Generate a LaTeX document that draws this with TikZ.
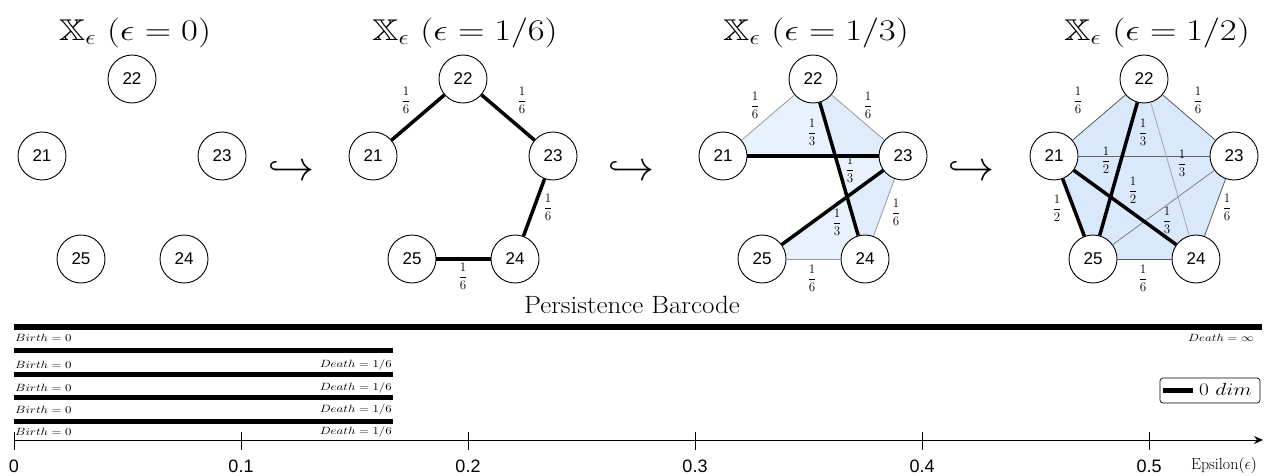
\documentclass[tikz,border=0pt]{standalone}
\usepackage{amsmath,amssymb}
\DeclareFontShape{OML}{cmm}{m}{it}{<-6> cmmi5 <6-7> cmmi6 <7-8> cmmi7 <8-9> cmmi8 <9-10> cmmi9 <10-12> cmmi10 <12-> cmmi12}{}
\DeclareFontShape{OMS}{cmsy}{m}{n}{<-6> cmsy5 <6-7> cmsy6 <7-8> cmsy7 <8-9> cmsy8 <9-10> cmsy9 <10-> cmsy10}{}
\DeclareFontShape{OT1}{cmr}{m}{n}{<-6> cmr5 <6-7> cmr6 <7-8> cmr7 <8-9> cmr8 <9-10> cmr9 <10-12> cmr10 <12-17> cmr12 <17-> cmr17}{}
\DeclareFontFamily{U}{msb}{}
\DeclareFontShape{U}{msb}{m}{n}{<-6> msbm5 <6-8> msbm7 <8-> msbm10}{}
\usepackage{graphicx}
\usepackage{fontspec}
\newfontfamily\arialf{Liberation Sans}
\usetikzlibrary{arrows.meta}
\definecolor{fillblue}{HTML}{DAE8FC}
\newcommand\mw[1]{\scalebox{1.22}[1]{#1}}
\newcommand\fsz[1]{\fontsize{#1}{#1}\selectfont}
\pgfdeclarelayer{bg}
\pgfsetlayers{bg,main}
\newcommand\penta[2]{%
  \node[vert] (#122) at (#2,79) {22};
  \node[vert] (#121) at ({#2-90},156) {21};
  \node[vert] (#123) at ({#2+90},156) {23};
  \node[vert] (#125) at ({#2-51},259) {25};
  \node[vert] (#124) at ({#2+52},259) {24};
}
\tikzset{
  vert/.style={circle, draw=black, line width=0.9pt, fill=white, minimum size=48pt, inner sep=0pt, font=\arialf\fsz{17}},
  thk/.style={line width=3.5pt, black},
  thn/.style={line width=0.8pt, draw=#1},
  thn/.default={gray},
  frc/.style={inner sep=0pt, font=\fsz{13}},
  ttl/.style={inner sep=0pt, font=\fsz{30}},
  hook/.style={inner sep=0pt, font=\fsz{42}},
  bar/.style={line width=5pt, black},
  lbl/.style={inner sep=0pt, font=\fsz{10.5}},
  tick/.style={inner sep=0pt, font=\arialf\fsz{18}},
}
\begin{document}
\begin{tikzpicture}[x=1pt,y=-1pt]
\useasboundingbox (0,0) rectangle (1268,476);
% titles
\node[ttl] (t1) at (135,33) {\mw{$\mathbb{X}_\epsilon\ (\epsilon = 0)$}};
\node[ttl] (t2) at (465,33) {\mw{$\mathbb{X}_\epsilon\ (\epsilon = 1/6)$}};
\node[ttl] (t3) at (816,33) {\mw{$\mathbb{X}_\epsilon\ (\epsilon = 1/3)$}};
\node[ttl] (t4) at (1157,33) {\mw{$\mathbb{X}_\epsilon\ (\epsilon = 1/2)$}};
% hook arrows
\node[hook] (h1) at (291,171) {$\hookrightarrow$};
\node[hook] (h2) at (631,171) {$\hookrightarrow$};
\node[hook] (h3) at (971,171) {$\hookrightarrow$};
% vertices
\penta{a}{132}
\penta{b}{463}
\penta{c}{813}
\penta{d}{1144}
% panel 2
\draw[thk] (b21) -- (b22);
\draw[thk] (b22) -- (b23);
\draw[thk] (b23) -- (b24);
\draw[thk] (b25) -- (b24);
\node[frc] (bl1) at (406,100) {$\dfrac{1}{6}$};
\node[frc] (bl2) at (522,100) {$\dfrac{1}{6}$};
\node[frc] (bl3) at (548,207) {$\dfrac{1}{6}$};
\node[frc] (bl4) at (463,276) {$\dfrac{1}{6}$};
% fills
\begin{pgfonlayer}{bg}
\fill[fillblue, fill opacity=0.6] (c21.center) -- (c22.center) -- (c23.center) -- cycle;
\fill[fillblue, fill opacity=0.6] (c22.center) -- (c23.center) -- (c24.center) -- cycle;
\fill[fillblue, fill opacity=0.6] (c23.center) -- (c24.center) -- (c25.center) -- cycle;
\fill[fillblue] (d21.center) -- (d22.center) -- (d23.center) -- (d24.center) -- (d25.center) -- cycle;
\end{pgfonlayer}
% panel 3
\draw[thn=gray!80] (c21) -- (c22);
\draw[thn=gray!80] (c22) -- (c23);
\draw[thn=gray!80] (c23) -- (c24);
\draw[thn=gray!80] (c25) -- (c24);
\draw[thk] (c21) -- (c23);
\draw[thk] (c22) -- (c24);
\draw[thk] (c23) -- (c25);
\node[frc] (cl1) at (755,105) {$\dfrac{1}{6}$};
\node[frc] (cl2) at (868,105) {$\dfrac{1}{6}$};
\node[frc] (cl3) at (812,132) {$\dfrac{1}{3}$};
\node[frc] (cl4) at (850,169) {$\dfrac{1}{3}$};
\node[frc] (cl5) at (837,222) {$\dfrac{1}{3}$};
\node[frc] (cl6) at (896,212) {$\dfrac{1}{6}$};
\node[frc] (cl7) at (812,278) {$\dfrac{1}{6}$};
% panel 4
\draw[thn=black!65] (d21) -- (d22);
\draw[thn=black!65] (d22) -- (d23);
\draw[thn=black!65] (d23) -- (d24);
\draw[thn=black!65] (d25) -- (d24);
\draw[thn=black!60] (d21) -- (d23);
\draw[thn=black!50] (d23) -- (d25);
\draw[thn=black!35] (d22) -- (d24);
\draw[thk] (d21) -- (d25);
\draw[thk] (d22) -- (d25);
\draw[thk] (d21) -- (d24);
\node[frc] (dl1) at (1078,100) {$\dfrac{1}{6}$};
\node[frc] (dl2) at (1198,100) {$\dfrac{1}{6}$};
\node[frc] (dl3) at (1143,132) {$\dfrac{1}{3}$};
\node[frc] (dl4) at (1106,160) {$\dfrac{1}{2}$};
\node[frc] (dl5) at (1182,163) {$\dfrac{1}{3}$};
\node[frc] (dl6) at (1133,190) {$\dfrac{1}{2}$};
\node[frc] (dl7) at (1167,220) {$\dfrac{1}{3}$};
\node[frc] (dl8) at (1227,207) {$\dfrac{1}{6}$};
\node[frc] (dl9) at (1057,208) {$\dfrac{1}{2}$};
\node[frc] (dl10) at (1143,278) {$\dfrac{1}{6}$};
% barcode
\node[inner sep=0pt, font=\fsz{25}] (pb) at (632,305) {\scalebox{1.08}[1]{Persistence Barcode}};
\draw[bar, line width=5.5pt] (14,327) -- (1262,327);
\draw[bar] (14,350) -- (393,350);
\draw[bar] (14,374.5) -- (393,374.5);
\draw[bar] (14,397) -- (393,397);
\draw[bar] (14,421) -- (393,421);
\node[lbl, anchor=west] (bi1) at (15,338) {\mw{$Birth = 0$}};
\node[lbl, anchor=east] (de1) at (1254,338) {\mw{$Death = \infty$}};
\node[lbl, anchor=west] (bi2) at (15,365) {\mw{$Birth = 0$}};
\node[lbl, anchor=east] (de2) at (392,365) {\mw{$Death = 1/6$}};
\node[lbl, anchor=west] (bi3) at (15,387.5) {\mw{$Birth = 0$}};
\node[lbl, anchor=east] (de3) at (392,387.5) {\mw{$Death = 1/6$}};
\node[lbl, anchor=west] (bi4) at (15,410) {\mw{$Birth = 0$}};
\node[lbl, anchor=east] (de4) at (392,410) {\mw{$Death = 1/6$}};
\node[lbl, anchor=west] (bi5) at (15,432) {\mw{$Birth = 0$}};
\node[lbl, anchor=east] (de5) at (392,432) {\mw{$Death = 1/6$}};
% legend
\node[draw, rounded corners=3pt, line width=0.7pt, minimum width=100pt, minimum height=25pt, inner sep=0pt] (leg) at (1210,390.5) {};
\draw[line width=5pt] ([xshift=3pt]leg.west) -- ++(30,0);
\node[inner sep=0pt, anchor=west, font=\fsz{17.5}] (legt) at (1199,389) {\mw{$0\ dim$}};
% axis
\coordinate (ax0) at (14,440);
\coordinate (ax1) at (1263,440);
\draw[line width=0.9pt, -{Stealth[length=9pt,width=8pt]}] (ax0) -- (ax1);
\foreach \k/\l in {0/0,1/0.1,2/0.2,3/0.3,4/0.4,5/0.5} {
  \draw[line width=0.9pt] ({14+227*\k},432) -- ({14+227*\k},450);
  \node[tick] (tk\k) at ({14+227*\k},466) {\l};
}
\node[inner sep=0pt, font=\fsz{16}] (eps) at (1224,465) {Epsilon$(\epsilon)$};
\end{tikzpicture}
\end{document}
